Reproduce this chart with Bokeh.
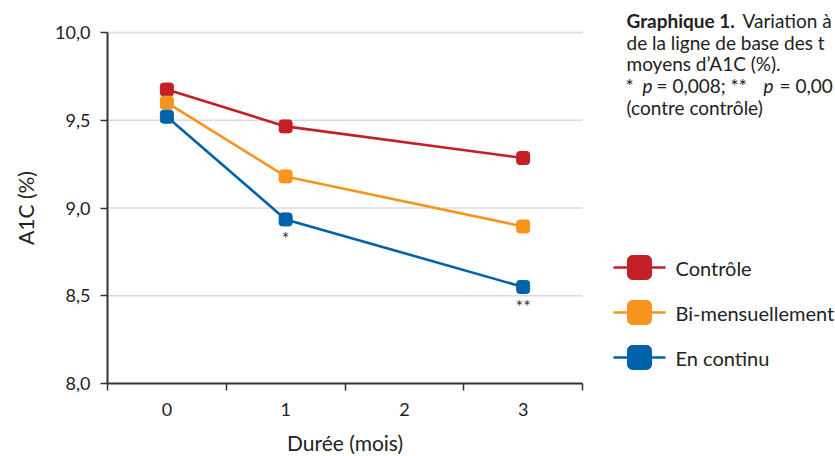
import math
from bokeh.plotting import figure
from bokeh.models import Range1d, FixedTicker, ColumnDataSource, LinearAxis
from bokeh.core.properties import value
from bokeh.embed import file_html
from bokeh.resources import INLINE

# ---- data ----
months = [0, 1, 3]
controle = [9.675, 9.465, 9.285]
bimensuel = [9.60, 9.18, 8.895]
continu = [9.52, 8.935, 8.55]
series_names = ["Contrôle", "Bi-mensuellement", "En continu"]
series_colors = ["#C41E26", "#F7941D", "#0062AA"]
x_tick_labels = ["0", "1", "2", "3"]
y_ticks = [8.0, 8.5, 9.0, 9.5, 10.0]
star_x = [1, 3]
star_y = [8.935, 8.55]
star_text = ["*", "**"]

FONT = "Lato"
TXT = "#222222"
AX = "#333333"

# page geometry: plot area spans x 107..582 and y 32..383
FL, FB = 107, 383
PXU = 118.75   # px per month category
PYU = 175.5    # px per 1.0 of A1C
X0, X1 = -0.5, 3.5
Y0, Y1 = 8.0, 10.0

def dx(px):
    return X0 + (px - FL) / PXU
def dy(py):
    return Y0 + (FB - py) / PYU

p = figure(width=835, height=456, output_backend="svg", toolbar_location=None,
           x_range=Range1d(dx(0), dx(835)), y_range=Range1d(dy(456), dy(0)),
           x_axis_location=None, y_axis_location=None,
           min_border=0, min_border_left=0, min_border_right=0,
           min_border_top=0, min_border_bottom=0)
p.outline_line_color = None
p.grid.visible = False

# horizontal grid lines across the plot area
gy = y_ticks[1:]
p.segment(x0=[X0] * len(gy), x1=[X1] * len(gy), y0=gy, y1=gy,
          line_color="#DCDCDC", line_width=1.5, level="underlay")

# x axis
xa = LinearAxis(fixed_location=Y0, bounds=(X0, X1),
                ticker=FixedTicker(ticks=[0, 1, 2, 3], minor_ticks=[-0.5, 0.5, 1.5, 2.5, 3.5]))
xa.major_label_overrides = {i: t for i, t in enumerate(x_tick_labels)}
xa.major_tick_line_color = None
xa.major_tick_out = 7
xa.minor_tick_in = 0
xa.minor_tick_out = 7
xa.minor_tick_line_color = AX
xa.minor_tick_line_width = 1.5
xa.axis_line_color = AX
xa.axis_line_width = 2
xa.major_label_standoff = 12
xa.major_label_text_font = FONT
xa.major_label_text_font_size = "18px"
xa.major_label_text_color = TXT
p.add_layout(xa, "below")

# y axis
ya = LinearAxis(fixed_location=X0, bounds=(Y0, Y1), ticker=FixedTicker(ticks=y_ticks))
ya.major_label_overrides = {t: f"{t:.1f}".replace(".", ",") for t in y_ticks}
ya.minor_tick_line_color = None
ya.major_tick_in = 0
ya.major_tick_out = 7
ya.major_tick_line_color = AX
ya.major_tick_line_width = 1.5
ya.axis_line_color = AX
ya.axis_line_width = 2
ya.major_label_standoff = 10
ya.major_label_text_font = FONT
ya.major_label_text_font_size = "18px"
ya.major_label_text_color = TXT
p.add_layout(ya, "left")

# axis titles
p.text(x=[(X0 + X1) / 2], y=[dy(442)], text=["Durée (mois)"], text_align="center",
       text_baseline="middle", text_font=value(FONT), text_font_size="21px", text_color=TXT)
p.text(x=[dx(25)], y=[(Y0 + Y1) / 2], text=["A1C (%)"], angle=math.pi / 2, text_align="center",
       text_baseline="middle", text_font=value(FONT), text_font_size="21px", text_color=TXT)

# series
for vals, col in zip([controle, bimensuel, continu], series_colors):
    src = ColumnDataSource(dict(x=months, y=vals))
    p.line("x", "y", source=src, line_color=col, line_width=2.6)
    p.rect("x", "y", width=13, height=13, width_units="screen", height_units="screen",
           source=src, fill_color=col, line_color=col, border_radius=3)

# significance stars
p.text(x=star_x, y=star_y, text=star_text, text_align="center", text_baseline="top",
       y_offset=8, text_font=value(FONT), text_font_size="18px", text_color=AX)

# ---- legend (drawn beside the plot area) ----
rows_y = [dy(v) for v in (267, 312, 357)]
p.segment(x0=[dx(613)] * 3, x1=[dx(665)] * 3, y0=rows_y, y1=rows_y,
          line_color=series_colors, line_width=2.5)
p.rect(x=[dx(639)] * 3, y=rows_y, width=24, height=24, width_units="screen", height_units="screen",
       fill_color=series_colors, line_color=series_colors, border_radius=5)
p.text(x=[dx(675)] * 3, y=rows_y, text=series_names, text_baseline="middle",
       text_font=value(FONT), text_font_size="20px", text_color=TXT)

# ---- caption ----
def cap(xs, ys, ts, style="normal"):
    p.text(x=[dx(v) for v in xs], y=[dy(v) for v in ys], text=ts, text_baseline="middle",
           text_font=value(FONT), text_font_size="19px", text_color=TXT, text_font_style=style)

cap([626], [20], ["Graphique 1."], "bold")
cap([742, 626, 626, 625, 656, 779, 626], [20, 42, 63, 85, 85, 85, 107],
    ["Variation à", "de la ligne de base des t", "moyens d\u2019A1C (%).", "*",
     "= 0,008; **", "= 0,00", "(contre contrôle)"])
cap([642, 763], [85, 85], ["p", "p"], "italic")

open("out.html", "w").write(file_html(p, INLINE))
